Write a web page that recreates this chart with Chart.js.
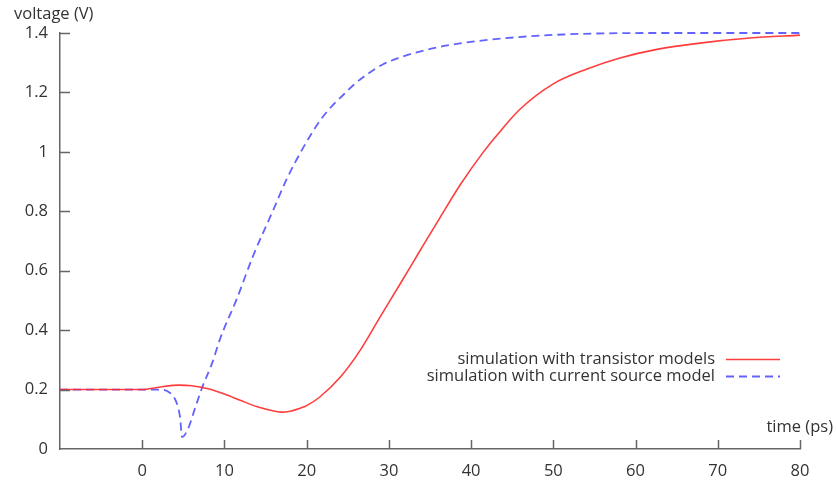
<!DOCTYPE html>
<html>
<head>
<meta charset="utf-8">
<script src="https://cdn.jsdelivr.net/npm/chart.js@4.4.0/dist/chart.umd.min.js"></script>
<style>
  html, body { margin: 0; padding: 0; background: #fff; }
  #wrap { width: 836px; height: 481px; position: relative; }
</style>
</head>
<body>
<div id="wrap"><canvas id="chart"></canvas></div>
<script>
// time (ps) / voltage (V)
const transistorTime = [-10, 0, 2, 4.5, 6, 8, 10, 12, 14, 16, 17, 18, 19.2, 20, 21.6, 24.1, 26.5, 28.9, 31.4, 33.8, 36.2, 38.7, 41.5, 43.5, 46, 50, 54.1, 58.1, 62.6, 67.8, 73.9, 80];
const transistorVolt = [0.2, 0.2, 0.208, 0.215, 0.213, 0.203, 0.185, 0.163, 0.142, 0.128, 0.124, 0.127, 0.137, 0.146, 0.175, 0.242, 0.332, 0.443, 0.557, 0.668, 0.778, 0.89, 1.0, 1.068, 1.145, 1.229, 1.279, 1.316, 1.345, 1.366, 1.383, 1.393];

const sourceTime = [-10, 0, 2, 3, 4.2, 4.6, 4.85, 5.6, 6.4, 7.3, 8.5, 9.5, 11.5, 13.5, 15.9, 17.6, 19.5, 21.6, 23.1, 24.5, 25.7, 27.3, 29.3, 31.4, 33.4, 37.1, 43.2, 51.2, 63.3, 80];
const sourceVolt = [0.2, 0.2, 0.2, 0.195, 0.154, 0.107, 0.04, 0.07, 0.135, 0.208, 0.289, 0.373, 0.505, 0.651, 0.802, 0.91, 1.01, 1.104, 1.155, 1.193, 1.225, 1.26, 1.295, 1.318, 1.335, 1.358, 1.38, 1.395, 1.4, 1.4];

const seriesLabels = ['simulation with transistor models', 'simulation with current source model'];
const xTicks = [-10, 0, 10, 20, 30, 40, 50, 60, 70, 80];
const yTicks = [0, 0.2, 0.4, 0.6, 0.8, 1, 1.2, 1.4];

const FONT = '"Open Sans", sans-serif';
const FONT_SIZE = 16.5;
const TEXT = '#333';
const AXIS = '#666';

function points(xs, ys) {
  return xs.map((x, i) => ({ x, y: ys[i] }));
}

// inward tick marks, axis titles and the legend in the lower right
const decorations = {
  id: 'decorations',
  afterDraw(chart) {
    const { ctx, chartArea, scales } = chart;
    const { x, y } = scales;
    ctx.save();
    ctx.strokeStyle = AXIS;
    ctx.lineWidth = 1.5;
    ctx.beginPath();
    xTicks.forEach(v => {
      if (v === x.min) return;
      const px = Math.round(x.getPixelForValue(v)) + 0.5;
      ctx.moveTo(px, chartArea.bottom);
      ctx.lineTo(px, chartArea.bottom - 9);
    });
    yTicks.forEach(v => {
      if (v === 0) return;
      const py = Math.round(y.getPixelForValue(v)) + 0.5;
      ctx.moveTo(chartArea.left, py);
      ctx.lineTo(chartArea.left + 10, py);
    });
    ctx.stroke();

    ctx.fillStyle = TEXT;
    ctx.font = FONT_SIZE + 'px ' + FONT;
    ctx.textBaseline = 'middle';
    ctx.textAlign = 'left';
    ctx.fillText('voltage (V)', 14, 14);
    ctx.textAlign = 'right';
    ctx.fillText('time (ps)', 833, 427);

    // legend
    const rows = [359, 376];
    chart.data.datasets.forEach((ds, i) => {
      const ry = rows[i];
      ctx.fillStyle = TEXT;
      ctx.textAlign = 'right';
      ctx.fillText(ds.label, 715, ry);
      ctx.strokeStyle = ds.borderColor;
      ctx.lineWidth = ds.borderWidth;
      ctx.setLineDash(ds.borderDash || []);
      ctx.beginPath();
      ctx.moveTo(726, ry + 0.5);
      ctx.lineTo(780, ry + 0.5);
      ctx.stroke();
    });
    ctx.restore();
  }
};

new Chart(document.getElementById('chart'), {
  type: 'line',
  data: {
    datasets: [
      {
        label: seriesLabels[0],
        data: points(transistorTime, transistorVolt),
        borderColor: 'rgba(255, 40, 40, 0.9)',
        borderWidth: 1.6,
        pointRadius: 0,
        cubicInterpolationMode: 'monotone',
        clip: 6,
        fill: false
      },
      {
        label: seriesLabels[1],
        data: points(sourceTime, sourceVolt),
        borderColor: 'rgba(70, 70, 255, 0.85)',
        borderWidth: 1.8,
        borderDash: [8, 5],
        pointRadius: 0,
        cubicInterpolationMode: 'monotone',
        clip: 6,
        fill: false
      }
    ]
  },
  options: {
    responsive: true,
    maintainAspectRatio: false,
    animation: false,
    layout: { padding: { top: 33, right: 36, left: 0, bottom: 0 } },
    plugins: {
      legend: { display: false },
      tooltip: { enabled: false }
    },
    scales: {
      x: {
        type: 'linear',
        min: -10,
        max: 80,
        afterBuildTicks: s => { s.ticks = xTicks.map(v => ({ value: v })); },
        afterFit: s => { s.height = 32; },
        grid: { display: true, drawOnChartArea: false, drawTicks: false },
        border: { display: true, color: AXIS, width: 1.5 },
        ticks: {
          padding: 12,
          color: TEXT,
          font: { family: FONT, size: FONT_SIZE },
          maxRotation: 0,
          callback: v => (v === -10 ? '' : String(v))
        }
      },
      y: {
        min: 0,
        max: 1.4,
        afterBuildTicks: s => { s.ticks = yTicks.map(v => ({ value: v })); },
        afterFit: s => { s.width = 60; },
        grid: { display: true, drawOnChartArea: false, drawTicks: false },
        border: { display: true, color: AXIS, width: 1.5 },
        ticks: {
          padding: 12,
          color: TEXT,
          font: { family: FONT, size: FONT_SIZE },
          callback: v => String(+(+v).toFixed(1))
        }
      }
    }
  },
  plugins: [decorations]
});
</script>
</body>
</html>
